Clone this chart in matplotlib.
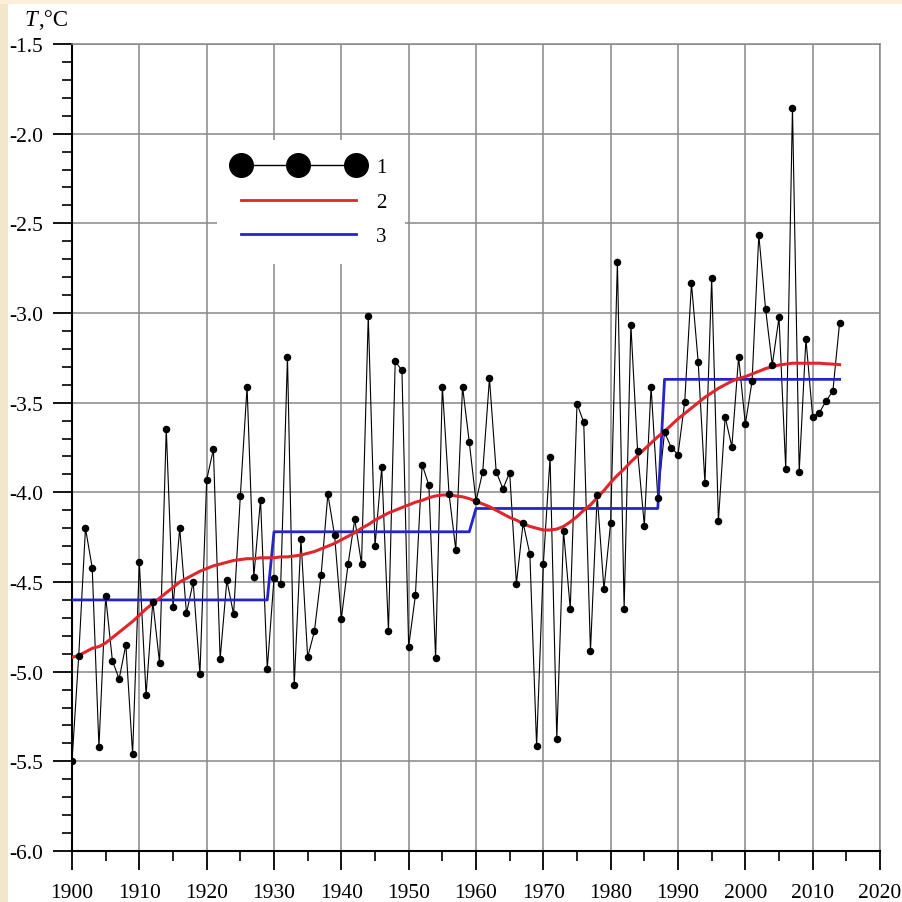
import matplotlib
matplotlib.use("Agg")
import matplotlib.pyplot as plt
from matplotlib.lines import Line2D
from matplotlib.patches import Rectangle
from matplotlib.ticker import MultipleLocator, FuncFormatter
import numpy as np

# ---- data -------------------------------------------------------------
years = np.arange(1900, 2015)

# annual mean air temperature, °C
temps = [
    -5.50, -4.91, -4.20, -4.42, -5.42, -4.58, -4.94, -5.04, -4.85, -5.46,   # 1900s
    -4.39, -5.13, -4.61, -4.95, -3.645, -4.64, -4.20, -4.675, -4.50, -5.015,  # 1910s
    -3.93, -3.76, -4.93, -4.49, -4.68, -4.02, -3.41, -4.47, -4.04, -4.985,  # 1920s
    -4.48, -4.51, -3.245, -5.075, -4.26, -4.92, -4.775, -4.46, -4.01, -4.24,  # 1930s
    -4.705, -4.40, -4.15, -4.40, -3.015, -4.30, -3.86, -4.775, -3.27, -3.32,  # 1940s
    -4.86, -4.575, -3.845, -3.96, -4.925, -3.41, -4.01, -4.32, -3.41, -3.72,  # 1950s
    -4.05, -3.885, -3.365, -3.885, -3.98, -3.89, -4.51, -4.17, -4.345, -5.415,  # 1960s
    -4.40, -3.805, -5.375, -4.215, -4.65, -3.505, -3.61, -4.885, -4.015, -4.54,  # 1970s
    -4.17, -2.715, -4.65, -3.065, -3.77, -4.185, -3.41, -4.03, -3.665, -3.75,  # 1980s
    -3.79, -3.495, -2.835, -3.275, -3.95, -2.805, -4.16, -3.58, -3.745, -3.245,  # 1990s
    -3.62, -3.38, -2.565, -2.975, -3.29, -3.025, -3.87, -1.855, -3.885, -3.145,  # 2000s
    -3.58, -3.555, -3.49, -3.435, -3.055,                                   # 2010s
]

# smoothed trend
trend = [
    -4.92, -4.91, -4.89, -4.87, -4.86, -4.84, -4.81, -4.78, -4.75, -4.72,
    -4.685, -4.65, -4.62, -4.59, -4.56, -4.53, -4.50, -4.48, -4.46, -4.44,
    -4.425, -4.41, -4.40, -4.39, -4.38, -4.375, -4.37, -4.37, -4.365, -4.365,
    -4.365, -4.36, -4.36, -4.355, -4.35, -4.34, -4.33, -4.315, -4.30, -4.285,
    -4.265, -4.245, -4.225, -4.20, -4.18, -4.155, -4.135, -4.115, -4.10, -4.085,
    -4.07, -4.055, -4.045, -4.03, -4.02, -4.015, -4.015, -4.02, -4.025, -4.035,
    -4.05, -4.065, -4.08, -4.10, -4.12, -4.14, -4.155, -4.175, -4.19, -4.20,
    -4.21, -4.21, -4.205, -4.19, -4.165, -4.135, -4.10, -4.07, -4.03, -3.99,
    -3.945, -3.905, -3.87, -3.83, -3.795, -3.76, -3.725, -3.69, -3.66, -3.625,
    -3.59, -3.56, -3.53, -3.50, -3.47, -3.445, -3.42, -3.40, -3.38, -3.365,
    -3.355, -3.34, -3.325, -3.31, -3.30, -3.29, -3.285, -3.28, -3.28, -3.28,
    -3.28, -3.28, -3.283, -3.285, -3.288,
]

# period means (stepwise): first year of each period and its mean
period_starts = [1900, 1930, 1960, 1988]
period_means = [-4.60, -4.22, -4.09, -3.37]

legend_labels = ["1", "2", "3"]

# ---- build step series from the period means ----------------------------
idx = np.searchsorted(period_starts, years, side="right") - 1
steps = np.asarray(period_means)[idx]

# ---- figure -----------------------------------------------------------
plt.rcParams["font.family"] = ["Liberation Serif", "DejaVu Serif"]

W, H = 902, 903
fig = plt.figure(figsize=(W / 100, H / 100), dpi=100, facecolor="white")
fig.patches.append(Rectangle((0, 0), 8 / W, 1, transform=fig.transFigure,
                             facecolor="#F2E7CB", edgecolor="none", zorder=0))
fig.patches.append(Rectangle((0, 1 - 5 / H), 1, 5 / H, transform=fig.transFigure,
                             facecolor="#FAF0DA", edgecolor="none", zorder=0))

ax = fig.add_axes([72 / W, 1 - 852 / H, (880 - 72) / W, (852 - 45) / H])
ax.set_xlim(1900, 2020)
ax.set_ylim(-6.0, -1.5)

ax.xaxis.set_major_locator(MultipleLocator(10))
ax.xaxis.set_minor_locator(MultipleLocator(5))
ax.yaxis.set_major_locator(MultipleLocator(0.5))
ax.yaxis.set_minor_locator(MultipleLocator(0.1))
ax.xaxis.set_major_formatter(FuncFormatter(lambda v, p: f"{int(round(v))}"))
ax.yaxis.set_major_formatter(FuncFormatter(lambda v, p: f"{v:.1f}"))

ax.grid(which="major", color="#888888", lw=1.1, zorder=1)
ax.set_axisbelow(True)

ax.tick_params(which="major", direction="out", length=14, width=1.3,
               labelsize=15.5, colors="black")
ax.tick_params(axis="x", which="major", pad=9)
ax.tick_params(axis="y", which="major", pad=7)
ax.tick_params(which="minor", direction="out", length=7, width=1.2)
ax.tick_params(axis="x", which="both", top=False)
ax.tick_params(axis="y", which="both", right=False)

for s in ("left", "bottom"):
    ax.spines[s].set_color("black")
    ax.spines[s].set_linewidth(1.5)
for s in ("top", "right"):
    ax.spines[s].set_color("#888888")
    ax.spines[s].set_linewidth(1.1)

# ---- series -----------------------------------------------------------
red = "#E0262C"
blue = "#2424C8"
ax.plot(years, temps, color="black", lw=0.8, zorder=3)
ax.plot(years, steps, color=blue, lw=2.0, zorder=4)
ax.plot(years, trend, color=red, lw=2.2, zorder=5)
ax.plot(years, temps, ls="none", marker="o", ms=4.4, color="black", zorder=6)

# ---- legend -----------------------------------------------------------
handles = [
    Line2D([], [], color="black", lw=1.0, marker="o", ms=17,
           markerfacecolor="black", markeredgecolor="black"),
    Line2D([], [], color=red, lw=2.0),
    Line2D([], [], color=blue, lw=2.0),
]
leg = ax.legend(handles, legend_labels, loc="upper left",
                bbox_to_anchor=(217 / W, 1 - 141 / H), bbox_transform=fig.transFigure,
                numpoints=3, handlelength=6.1, handletextpad=0.7, labelspacing=0.72,
                borderpad=0.85, borderaxespad=0, fontsize=15,
                frameon=True, fancybox=False, facecolor="white", edgecolor="none",
                framealpha=1.0)
leg.set_zorder(10)

# ---- axis title (T,°C) ------------------------------------------------
fig.text(25 / W, 1 - 21 / H, "T", fontsize=16.5, style="italic", ha="left", va="center")
fig.text(38 / W, 1 - 21 / H, ",°C", fontsize=16.5, ha="left", va="center")

fig.savefig("out.png", dpi=100, facecolor=fig.get_facecolor())
